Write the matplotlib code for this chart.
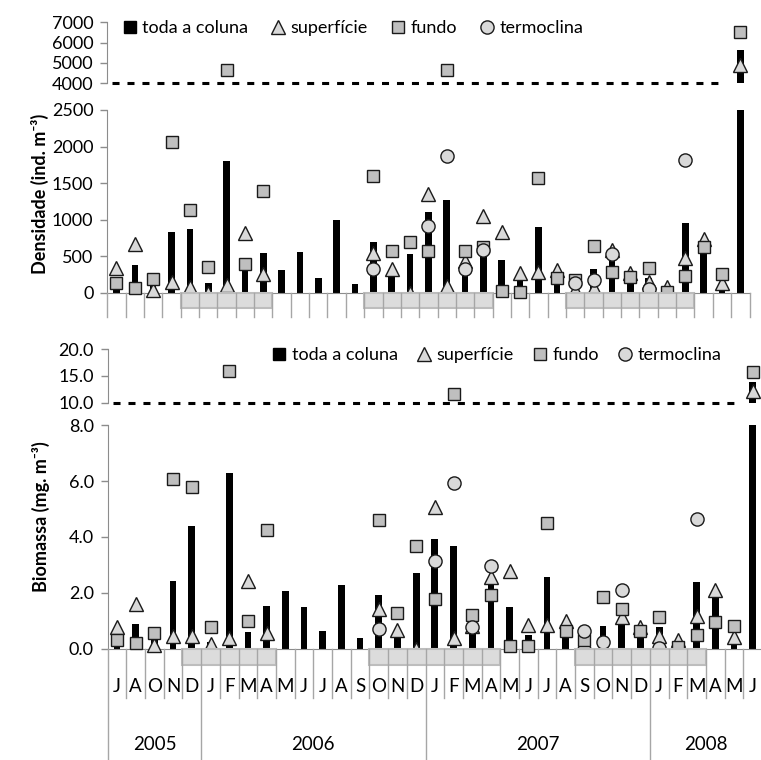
import numpy as np
import matplotlib
matplotlib.use('Agg')
import matplotlib.pyplot as plt
from matplotlib.lines import Line2D
from matplotlib.patches import Rectangle

plt.rcParams['font.family'] = ['Lato', 'DejaVu Sans']

nan = np.nan

months = ['J', 'A', 'O', 'N', 'D',
          'J', 'F', 'M', 'A', 'M', 'J', 'J', 'A', 'S', 'O', 'N', 'D',
          'J', 'F', 'M', 'A', 'M', 'J', 'J', 'A', 'S', 'O', 'N', 'D',
          'J', 'F', 'M', 'A', 'M', 'J']
years = ['2005', '2006', '2007', '2008']
months_per_year = [5, 12, 12, 6]
# first and last month index of each shaded period
shaded = [(4, 8), (14, 20), (25, 31)]

# density (ind. m-3)
dens_coluna = [210, 379, 90, 830, 867, 137, 1807, 370, 538, 306, 561, 196, 995, 123,
               698, 250, 525, 1100, 1268, 280, 690, 447, 160, 903, 180, 120, 319, 470,
               250, 200, 30, 958, 650, 150, 5650]
dens_superficie = [333, 666, 36, 150, 82, 0, 105, 812, 251, nan, nan, nan, nan, nan,
                   538, 319, 0, 1350, 96, 433, 1049, 826, 274, 287, 310, 40, 60, 584,
                   270, 150, 82, 479, 740, 128, 4900]
dens_fundo = [128, 68, 187, 2062, 1136, 356, 4650, 392, 1391, nan, nan, nan, nan, nan,
              1597, 570, 698, 570, 4650, 570, 630, 27, 5, 1574, 196, 180, 643, 278,
              220, 342, 14, 228, 630, 255, 6500]
dens_termoclina = [nan, nan, nan, nan, nan, nan, nan, nan, nan, nan, nan, nan, nan, nan,
                   324, nan, nan, 908, 1870, 324, 584, nan, nan, nan, nan, 128, 173, 525,
                   nan, 46, nan, 1816, nan, nan, nan]

# biomass (mg. m-3)
bio_coluna = [0.5, 0.87, 0.3, 2.42, 4.39, 0.25, 6.28, 0.6, 1.52, 2.07, 1.48, 0.63, 2.26,
              0.36, 1.92, 0.6, 2.69, 3.94, 3.69, 0.8, 2.6, 1.48, 0.48, 2.55, 0.7, 0.2,
              0.82, 1.1, 0.75, 0.78, 0.1, 2.4, 1.9, 0.2, 13.8]
bio_superficie = [0.78, 1.58, 0.12, 0.46, 0.46, 0.15, 0.36, 2.42, 0.57, nan, nan, nan,
                  nan, nan, 1.40, 0.68, 0.0, 5.08, 0.36, 0.8, 2.57, 2.78, 0.84, 0.84,
                  0.97, 0.24, 0.1, 1.14, 0.76, 0.45, 0.3, 1.18, 2.1, 0.4, 12.2]
bio_fundo = [0.3, 0.19, 0.57, 6.06, 5.78, 0.77, 16.0, 0.97, 4.25, nan, nan, nan, nan,
             nan, 4.6, 1.27, 3.67, 1.76, 11.6, 1.2, 1.92, 0.08, 0.1, 4.49, 0.63, 0.3,
             1.86, 1.42, 0.63, 1.13, 0.04, 0.48, 0.96, 0.82, 15.8]
bio_termoclina = [nan, nan, nan, nan, nan, nan, nan, nan, nan, nan, nan, nan, nan, nan,
                  0.70, nan, nan, 3.15, 5.92, 0.76, 2.96, nan, nan, nan, nan, 0.63, 0.24,
                  2.1, nan, 0.03, nan, 4.64, nan, nan, nan]

W, H = 761, 760
fig = plt.figure(figsize=(W / 100, H / 100), dpi=100)

AXIS_GRAY = '#8c8c8c'
LINE_GRAY = '#a6a6a6'

tri = dict(marker='^', ms=9.4, mfc='#d9d9d9', mec='#1a1a1a', mew=1.0, ls='none')
sq = dict(marker='s', ms=8, mfc='#bfbfbf', mec='#1a1a1a', mew=1.0, ls='none')
circ = dict(marker='o', ms=9.5, mfc='#d9d9d9', mec='#1a1a1a', mew=1.0, ls='none')


def px_axes(left, top, right, bottom):
    """Axes placed by pixel edges (origin at top left)."""
    return fig.add_axes([left / W, 1 - bottom / H, (right - left) / W, (bottom - top) / H])


def style_y(ax, lim, ticks, fmt, bottom_spine):
    ax.set_ylim(*lim)
    ax.set_xlim(-0.5, len(months) - 0.5)
    ax.set_yticks(ticks)
    ax.set_yticklabels([fmt.format(t) for t in ticks])
    ax.set_xticks([])
    ax.tick_params(axis='y', length=5, width=1, color=AXIS_GRAY, labelsize=13, pad=5)
    for side in ['top', 'right']:
        ax.spines[side].set_visible(False)
    ax.spines['left'].set_color(AXIS_GRAY)
    ax.spines['bottom'].set_color(AXIS_GRAY)
    ax.spines['bottom'].set_visible(bottom_spine)
    ax.patch.set_alpha(0)


def draw_panel(ax_hi, ax_lo, brk, series, dash_span):
    coluna, superficie, fundo, termoclina = series
    x = np.arange(len(months))
    for ax in (ax_hi, ax_lo):
        ax.bar(x, coluna, width=0.36, color='black', zorder=2)
    for vals, style, z in ((superficie, tri, 3), (fundo, sq, 4), (termoclina, circ, 5)):
        arr = np.array(vals, float)
        lo = np.where(arr < brk, arr, nan)
        hi = np.where(arr >= brk, arr, nan)
        ax_lo.plot(x, lo, clip_on=False, zorder=z, **style)
        ax_hi.plot(x, hi, clip_on=False, zorder=z, **style)
    ax_hi.plot(dash_span, [0, 0], transform=ax_hi.transAxes, color='black', lw=2.2,
               ls=(0, (2.3, 2.6)), dash_capstyle='butt', clip_on=False, zorder=6)


def shade_periods(ax, y0, h):
    for a, b in shaded:
        ax.add_patch(Rectangle((a - 0.5, y0), b - a + 1, h, fc='#dcdcdc', ec='#bdbdbd',
                               lw=1.5, zorder=1, clip_on=False))


# ---- density panel ----
d_hi = px_axes(107.3, 22.3, 749.5, 83.3)
d_lo = px_axes(107.3, 110, 749.5, 292.7)
style_y(d_hi, (4000, 7000), [4000, 5000, 6000, 7000], '{:.0f}', False)
style_y(d_lo, (0, 2500), [0, 500, 1000, 1500, 2000, 2500], '{:.0f}', True)
draw_panel(d_hi, d_lo, 4000,
           (dens_coluna, dens_superficie, dens_fundo, dens_termoclina), [0.007, 0.959])

d_strip = px_axes(107.3, 292.7, 749.5, 316.7)
d_strip.set_xlim(-0.5, len(months) - 0.5)
d_strip.set_ylim(0, 1)
d_strip.axis('off')
shade_periods(d_strip, 0.35, 0.65)
for i in range(len(months) + 1):
    d_strip.plot([i - 0.5, i - 0.5], [0, 1], color=LINE_GRAY, lw=1, zorder=2, clip_on=False)

# ---- biomass panel ----
b_hi = px_axes(107.7, 349.3, 762, 402.7)
b_lo = px_axes(107.7, 425.3, 762, 648.5)
style_y(b_hi, (10, 20), [10, 15, 20], '{:.1f}', False)
style_y(b_lo, (0, 8), [0, 2, 4, 6, 8], '{:.1f}', True)
draw_panel(b_hi, b_lo, 10,
           (bio_coluna, bio_superficie, bio_fundo, bio_termoclina), [0.008, 0.962])

b_strip = px_axes(107.7, 648.5, 762, 760)
b_strip.set_xlim(-0.5, len(months) - 0.5)
b_strip.set_ylim(0, 1)
b_strip.axis('off')
shade_periods(b_strip, 0.852, 0.143)
year_edges = np.cumsum([0] + months_per_year)
for i in range(len(months) + 1):
    y_end = 0 if i in year_edges else 0.556
    b_strip.plot([i - 0.5, i - 0.5], [y_end, 1], color=LINE_GRAY, lw=1, zorder=2,
                 clip_on=False)
for i, m in enumerate(months):
    b_strip.text(i, 0.655, m, ha='center', va='center', fontsize=13.5)
for yr, a, b in zip(years, year_edges[:-1], year_edges[1:]):
    b_strip.text((a + b - 1) / 2, 0.143, yr, ha='center', va='center', fontsize=13.5)

# ---- axis titles and legends ----
fig.text(40 / W, 1 - 194 / H, 'Densidade (ind. m\u207b\u00b3)', rotation=90,
         ha='center', va='center', fontsize=13, fontweight='bold')
fig.text(41 / W, 1 - 517 / H, 'Biomassa (mg. m\u207b\u00b3)', rotation=90,
         ha='center', va='center', fontsize=13, fontweight='bold')

handles = [Line2D([], [], marker='s', ms=8, color='black', ls='none'),
           Line2D([], [], **tri), Line2D([], [], **sq), Line2D([], [], **circ)]
labels = ['toda a coluna', 'superfície', 'fundo', 'termoclina']
fig.legend(handles, labels, loc='center', bbox_to_anchor=(352.5 / W, 1 - 28 / H), ncol=4,
           frameon=False, fontsize=13, handlelength=0.9, handletextpad=0.25,
           columnspacing=1.2, borderpad=0, borderaxespad=0)
fig.legend(handles, labels, loc='center', bbox_to_anchor=(496.5 / W, 1 - 355 / H), ncol=4,
           frameon=False, fontsize=13, handlelength=0.9, handletextpad=0.25,
           columnspacing=1.0, borderpad=0, borderaxespad=0)

fig.savefig('out.png', dpi=100)
